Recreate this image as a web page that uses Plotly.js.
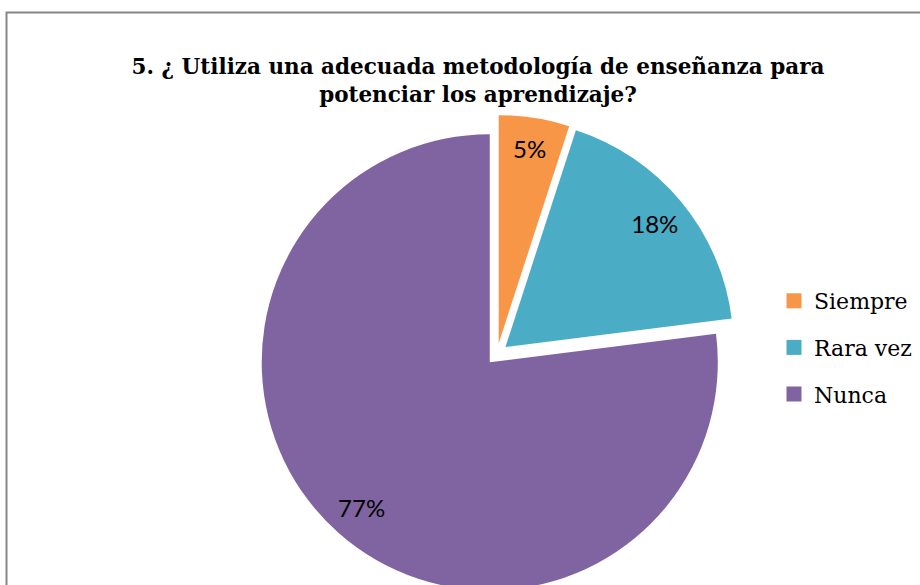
<!DOCTYPE html>
<html>
<head>
<meta charset="utf-8">
<script src="https://cdn.plot.ly/plotly-3.0.1.min.js"></script>
<style>
  html, body { margin: 0; padding: 0; background: #fff; overflow: hidden; }
  #chart { width: 920px; height: 700px; }
</style>
</head>
<body>
<div id="chart"></div>
<script>
const categories = ["Siempre", "Rara vez", "Nunca"];
const values = [5, 18, 77];
const colors = ["#F79646", "#4BACC6", "#8064A2"];
const titleText = "5. ¿ Utiliza una adecuada metodología de enseñanza para<br>potenciar los aprendizaje?";

const H = 700, W = 920;
const pieDomain = { x: [258 / W, 736 / W], y: [1 - 593 / H, 1 - 115 / H] };
const pullFrac = 0.048;

const traces = [
  {
    type: "pie",
    labels: categories,
    values: values,
    sort: false,
    direction: "clockwise",
    rotation: 0,
    pull: categories.map(() => pullFrac),
    marker: { colors: colors, line: { width: 0 } },
    textinfo: "none",
    hoverinfo: "label+percent",
    showlegend: false,
    domain: pieDomain
  },
  {
    type: "pie",
    labels: categories,
    values: values,
    sort: false,
    direction: "clockwise",
    rotation: 0,
    hole: 0.7,
    pull: categories.map(() => pullFrac),
    marker: { colors: categories.map(() => "rgba(0,0,0,0)"), line: { width: 0 } },
    textinfo: "percent",
    textposition: "inside",
    insidetextorientation: "horizontal",
    insidetextfont: { family: "Lato, sans-serif", size: 24, color: "#000" },
    hoverinfo: "skip",
    showlegend: false,
    domain: pieDomain
  }
];

categories.forEach((c, i) => {
  traces.push({
    type: "scatter",
    mode: "markers",
    x: [null], y: [null],
    name: c,
    legendgroup: "g" + i,
    marker: { symbol: "square", size: 15, color: colors[i] },
    hoverinfo: "skip",
    showlegend: true
  });
});

const layout = {
  width: W,
  height: H,
  margin: { l: 0, r: 0, t: 0, b: 0 },
  paper_bgcolor: "#fff",
  plot_bgcolor: "rgba(0,0,0,0)",
  xaxis: { visible: false },
  yaxis: { visible: false },
  title: {
    text: titleText,
    x: 478 / W,
    xanchor: "center",
    xref: "paper",
    y: 1 - 74 / H,
    yanchor: "top",
    yref: "paper",
    font: { family: "'DejaVu Serif', serif", size: 21.5, color: "#000", weight: "bold" }
  },
  legend: {
    x: 774 / W,
    xanchor: "left",
    y: 1 - 280 / H,
    yanchor: "top",
    traceorder: "grouped",
    tracegroupgap: 15,
    bgcolor: "rgba(0,0,0,0)",
    font: { family: "'DejaVu Serif', serif", size: 22, color: "#000" }
  },
  shapes: [
    {
      type: "rect", xref: "paper", yref: "paper",
      x0: 6.5 / W, x1: 1.02, y0: -0.02, y1: 1 - 12.5 / H,
      line: { color: "#878787", width: 2 },
      fillcolor: "rgba(0,0,0,0)"
    }
  ]
};

Plotly.newPlot("chart", traces, layout, { displayModeBar: false, staticPlot: true });
</script>
</body>
</html>
